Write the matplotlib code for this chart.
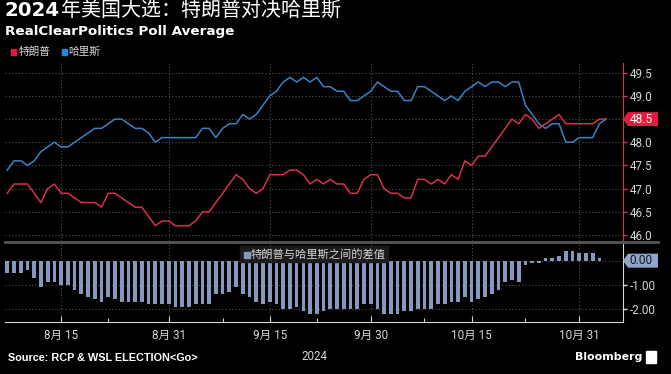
import matplotlib
matplotlib.use("Agg")
import matplotlib.pyplot as plt
import matplotlib.dates as mdates
import numpy as np
import pandas as pd
from matplotlib.patches import Rectangle, Polygon
from matplotlib.lines import Line2D

plt.rcParams['axes.unicode_minus'] = False

# RCP poll average, daily from 2024-08-07
start = "2024-08-07"
harris = [47.4, 47.6, 47.6, 47.5, 47.6, 47.8, 47.9, 48.0, 47.9, 47.9,
          48.0, 48.1, 48.2, 48.3, 48.3, 48.4, 48.5, 48.5, 48.4, 48.3,
          48.3, 48.2, 48.0, 48.1, 48.1, 48.1, 48.1, 48.1, 48.1, 48.3,
          48.3, 48.1, 48.3, 48.4, 48.4, 48.6, 48.5, 48.6, 48.8, 49.0,
          49.1, 49.3, 49.4, 49.3, 49.4, 49.3, 49.4, 49.2, 49.2, 49.1,
          49.1, 48.9, 48.9, 49.0, 49.1, 49.3, 49.2, 49.1, 49.1, 48.9,
          48.9, 49.2, 49.2, 49.1, 49.0, 48.9, 49.0, 48.9, 49.1, 49.2,
          49.3, 49.2, 49.3, 49.3, 49.2, 49.3, 49.3, 48.8, 48.6, 48.4,
          48.3, 48.4, 48.4, 48.0, 48.0, 48.1, 48.1, 48.1, 48.4, 48.5]
trump = [46.9, 47.1, 47.1, 47.1, 46.9, 46.7, 47.0, 47.1, 46.9, 46.9,
         46.8, 46.7, 46.7, 46.7, 46.6, 46.9, 46.9, 46.8, 46.7, 46.6,
         46.6, 46.4, 46.2, 46.3, 46.3, 46.2, 46.2, 46.2, 46.3, 46.5,
         46.5, 46.7, 46.9, 47.1, 47.3, 47.2, 47.0, 46.9, 47.0, 47.3,
         47.3, 47.3, 47.4, 47.4, 47.3, 47.1, 47.2, 47.1, 47.2, 47.1,
         47.1, 46.9, 46.9, 47.2, 47.3, 47.3, 47.0, 46.9, 46.9, 46.8,
         46.8, 47.2, 47.2, 47.1, 47.2, 47.1, 47.3, 47.2, 47.6, 47.5,
         47.7, 47.7, 47.9, 48.1, 48.3, 48.5, 48.4, 48.6, 48.5, 48.3,
         48.4, 48.5, 48.6, 48.4, 48.4, 48.4, 48.4, 48.4, 48.5, 48.5]

tick_dates = ["2024-08-15", "2024-08-31", "2024-09-15", "2024-09-30", "2024-10-15", "2024-10-31"]
tick_labels = ["8月 15", "8月 31", "9月 15", "9月 30", "10月 15", "10月 31"]
minor_dates = ["2024-08-22", "2024-09-08", "2024-09-22", "2024-10-08", "2024-10-23"]
top_ticks = [46.0, 46.5, 47.0, 47.5, 48.0, 48.5, 49.0, 49.5]
bottom_ticks = [0.0, -1.0, -2.0]

dates = pd.date_range(start, periods=len(harris), freq="D")
diff = np.round(np.array(trump) - np.array(harris), 1)

RED = "#d8304c"
BLUE = "#3b82c6"
BAR = "#8599bf"
GRID = "#505050"
TXT = "#d6d6d6"
CJK = ["Noto Sans CJK SC", "DejaVu Sans"]
NUM = ["Roboto", "Noto Sans CJK SC"]

W, H = 671, 374
fig = plt.figure(figsize=(W / 100, H / 100), dpi=100, facecolor="black")


def rect(x0, y0, x1, y1):
    return [x0 / W, 1 - y1 / H, (x1 - x0) / W, (y1 - y0) / H]


ax1 = fig.add_axes(rect(5, 63, 623, 241))
ax2 = fig.add_axes(rect(5, 244, 623, 322))

x0 = mdates.date2num(pd.Timestamp(start))
for ax in (ax1, ax2):
    ax.set_facecolor("black")
    ax.set_xlim(x0 - 0.34, x0 + 91.5)
    ax.set_xticks(pd.to_datetime(tick_dates))
    ax.set_xticks(pd.to_datetime(minor_dates), minor=True)
    ax.grid(axis="x", which="major", color=GRID, linestyle=(0, (1, 2)), lw=0.8)
    ax.set_axisbelow(True)
    for s in ("top", "left"):
        ax.spines[s].set_visible(False)
    ax.yaxis.tick_right()

# top panel
ax1.plot(dates, harris, color=BLUE, lw=1.1)
ax1.plot(dates, trump, color=RED, lw=1.1)
ax1.set_ylim(45.87, 49.71)
ax1.set_yticks(top_ticks)
ax1.set_yticklabels(["" if v == trump[-1] else f"{v:.1f}" for v in top_ticks],
                    family=NUM, fontsize=8.4)
ax1.grid(axis="y", color=GRID, linestyle=(0, (1, 2)), lw=0.8)
ax1.spines["bottom"].set_visible(False)
ax1.spines["right"].set_color(RED)
ax1.tick_params(axis="y", color=RED, labelcolor=TXT, length=3, width=1, pad=2)
ax1.tick_params(axis="x", which="both", length=0, labelbottom=False)

# bottom panel
ax2.bar(dates, diff, width=0.55, color=BAR)
ax2.set_ylim(-2.54, 0.69)
ax2.set_yticks(bottom_ticks)
ax2.set_yticklabels(["" if v == diff[-1] else f"{v:.2f}" for v in bottom_ticks],
                    family=NUM, fontsize=8.4)
ax2.grid(axis="y", color=GRID, linestyle=(0, (1, 2)), lw=0.8)
ax2.spines["right"].set_color(TXT)
ax2.spines["bottom"].set_color(TXT)
ax2.tick_params(axis="y", color=TXT, labelcolor=TXT, length=3, width=1, pad=2)
ax2.tick_params(axis="x", which="both", color=TXT, labelcolor=TXT, direction="in",
                length=4, width=0.8, pad=5)
ax2.tick_params(axis="x", which="minor", length=3)
ax2.set_xticklabels(tick_labels, family=NUM, fontsize=8.4)
fig.text(314 / W, 1 - 356 / H, "2024", color=TXT, family=NUM, fontsize=8.4,
         ha="center", va="center")

# separator between panels
fig.add_artist(Line2D([5 / W, 658 / W], [1 - 242 / H] * 2, color="#555555", lw=2))


def value_tag(ax, value, label, fc, tc):
    yc = ax.transData.transform((ax.get_xlim()[1], value))[1] / H
    h = 7 / H
    pts = [(623 / W, yc), (628 / W, yc + h), (658 / W, yc + h),
           (658 / W, yc - h), (628 / W, yc - h)]
    fig.add_artist(Polygon(pts, closed=True, fc=fc, ec="none", transform=fig.transFigure))
    fig.text(629.5 / W, yc, label, color=tc, family=NUM, fontsize=8.6, va="center", ha="left")


value_tag(ax1, trump[-1], f"{trump[-1]:.1f}", "#e8193c", "white")
value_tag(ax2, diff[-1], f"{abs(diff[-1]):.2f}", "#8ea5c9", "#101828")

# legends
fig.add_artist(Rectangle((11 / W, 1 - 54.5 / H), 5 / W, 5 / H, color="#e8173d",
                         transform=fig.transFigure))
fig.text(18.5 / W, 1 - 52 / H, "特朗普", color=TXT, family=CJK, fontsize=7.7, va="center")
fig.add_artist(Rectangle((61.5 / W, 1 - 54.5 / H), 5 / W, 5 / H, color="#1e88e5",
                         transform=fig.transFigure))
fig.text(68.5 / W, 1 - 52 / H, "哈里斯", color=TXT, family=CJK, fontsize=7.7, va="center")

fig.add_artist(Rectangle((240 / W, 1 - 262 / H), 148 / W, 16 / H, color="#1c1c1c",
                         transform=fig.transFigure))
fig.add_artist(Rectangle((244 / W, 1 - 257.5 / H), 5.5 / W, 5.5 / H, color=BAR,
                         transform=fig.transFigure))
fig.text(251 / W, 1 - 254.5 / H, "特朗普与哈里斯之间的差值", color=TXT, family=CJK,
         fontsize=8.1, va="center")

# titles
t = fig.text(5 / W, 1 - 11 / H, "2024", color="white", fontsize=14.2,
             fontweight="bold", va="center")
bb = t.get_window_extent(fig.canvas.get_renderer())
fig.text((bb.x1 + 1) / W, 1 - 11 / H, "年美国大选：特朗普对决哈里斯", color="white",
         family=CJK, fontsize=14.4, va="center")
fig.text(5 / W, 1 - 31 / H, "RealClearPolitics Poll Average", color="white",
         fontsize=9.7, fontweight="bold", va="center")

# footer
fig.text(8 / W, 1 - 358 / H, "Source: RCP & WSL ELECTION<Go>", color="white",
         family=["Liberation Sans", "DejaVu Sans"], fontsize=7.8,
         fontweight="bold", va="center")
fig.text(642 / W, 1 - 357 / H, "Bloomberg", color="white", fontsize=7.9,
         fontweight="bold", va="center", ha="right")
fig.add_artist(Rectangle((646 / W, 1 - 363 / H), 10 / W, 12 / H, color="white",
                         transform=fig.transFigure))

fig.savefig("out.png", dpi=100, facecolor="black")
